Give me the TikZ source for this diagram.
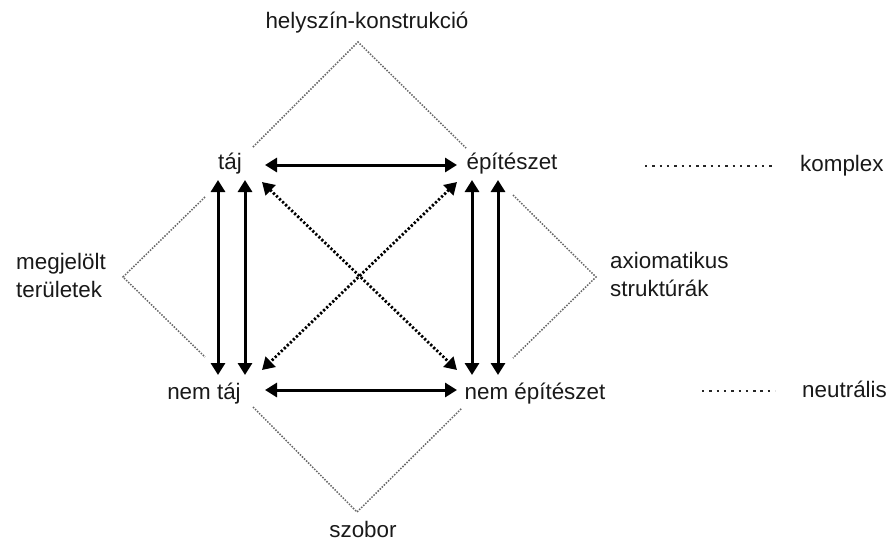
\documentclass[tikz,border=0pt]{standalone}
\usepackage{fontspec}
\setmainfont{Liberation Sans}
\usetikzlibrary{arrows.meta}
\begin{document}
\begin{tikzpicture}[x=1pt,y=-1pt,
  lbl/.style={inner sep=0pt, anchor=base, font=\fontsize{22.4}{27}\selectfont, text=black!90},
  tip/.tip={Triangle[length=12pt,width=14pt]},
  dbl/.style={line width=3pt, tip-tip},
  dotarrow/.style={dbl, line width=2.8pt, dash pattern=on 2.2pt off 2pt},
  roof/.style={black!60, line width=1.5pt, dash pattern=on 1.5pt off 1.4pt},
  legendline/.style={black!85, line width=2.7pt, dash pattern=on 2.4pt off 4.9pt}]
\useasboundingbox (0,0) rectangle (890,544);

% labels
\node[lbl] (site) at (367,28) {helyszín-konstrukció};
\node[lbl] (taj) at (230,169) {táj};
\node[lbl] (arch) at (512,169) {építészet};
\node[lbl] (ntaj) at (204,399) {nem táj};
\node[lbl] (narch) at (535,399) {nem építészet};
\node[lbl] (szobor) at (363,537) {szobor};
\node[lbl,anchor=base west] (mj1) at (16,269) {megjelölt};
\node[lbl,anchor=base west] (mj2) at (16,297) {területek};
\node[lbl,anchor=base west] (ax1) at (610,268) {axiomatikus};
\node[lbl,anchor=base west] (ax2) at (610,296) {struktúrák};
\node[lbl,anchor=base west] (komplex) at (800,171) {komplex};
\node[lbl,anchor=base west] (neutr) at (802,397) {neutrális};

% arrow end points
\coordinate (tajR) at (265,165);
\coordinate (archL) at (457,165);
\coordinate (ntajR) at (265,390);
\coordinate (narchL) at (457,390);
\coordinate (l1t) at (218,180); \coordinate (l1b) at (218,375);
\coordinate (l2t) at (245,180); \coordinate (l2b) at (245,375);
\coordinate (r1t) at (472,180); \coordinate (r1b) at (472,375);
\coordinate (r2t) at (498,180); \coordinate (r2b) at (498,375);
\coordinate (dTL) at (262,182); \coordinate (dBR) at (457,370);
\coordinate (dTR) at (457,182); \coordinate (dBL) at (262,370);

% contrary relations
\draw[dbl] (tajR) -- (archL);
\draw[dbl] (ntajR) -- (narchL);
% implications
\draw[dbl] (l1t) -- (l1b);
\draw[dbl] (l2t) -- (l2b);
\draw[dbl] (r1t) -- (r1b);
\draw[dbl] (r2t) -- (r2b);
% contradictions
\draw[dotarrow] (dTL) -- (dBR);
\draw[dotarrow] (dTR) -- (dBL);

% roofs of the expanded field
\coordinate (topA) at (358,42);
\coordinate (topL) at (253,147); \coordinate (topR) at (466,148);
\coordinate (leftA) at (123,277);
\coordinate (leftT) at (205,197); \coordinate (leftB) at (205,357);
\coordinate (rightA) at (596,277);
\coordinate (rightT) at (513,195); \coordinate (rightB) at (513,358);
\coordinate (botA) at (357,512);
\coordinate (botL) at (253,407); \coordinate (botR) at (462,408);
\draw[roof] (topL) -- (topA) -- (topR);
\draw[roof] (leftT) -- (leftA) -- (leftB);
\draw[roof] (rightT) -- (rightA) -- (rightB);
\draw[roof] (botL) -- (botA) -- (botR);

% legend
\coordinate (k1) at (645,166); \coordinate (k2) at (776,166);
\coordinate (n1) at (702,391); \coordinate (n2) at (775,391);
\draw[legendline] (k1) -- (k2);
\draw[legendline] (n1) -- (n2);
\end{tikzpicture}
\end{document}
